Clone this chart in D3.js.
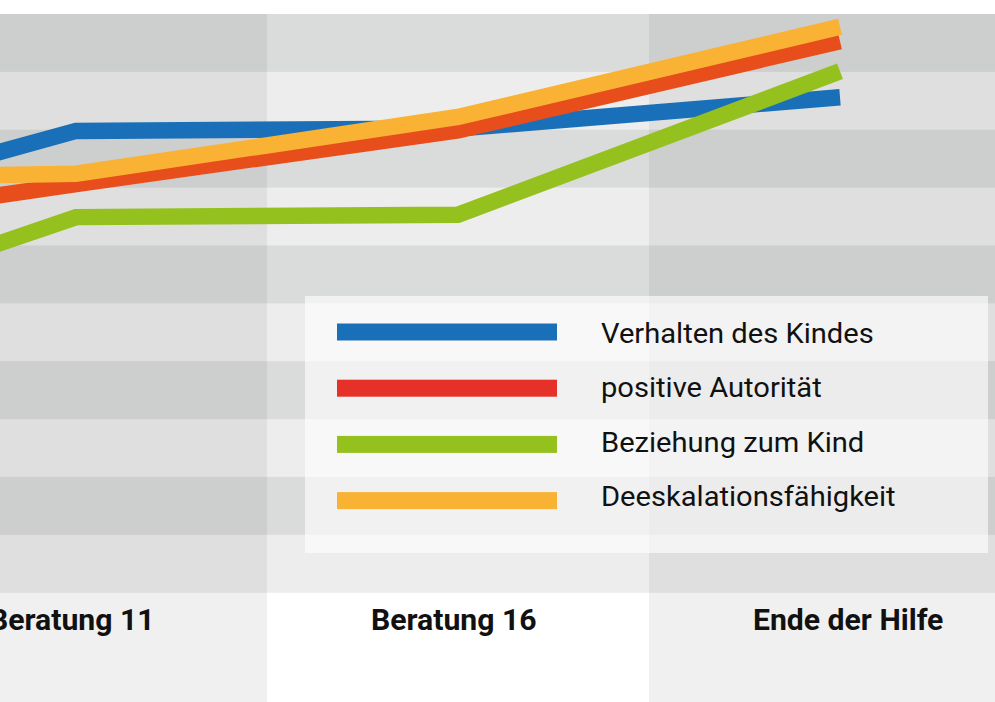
<!DOCTYPE html>
<html>
<head>
<meta charset="utf-8">
<script src="https://cdn.jsdelivr.net/npm/d3@7"></script>
<style>
  body { margin: 0; background: #fff; }
  svg { display: block; }
  text { font-family: Roboto, "Open Sans", sans-serif; fill: #111; }
</style>
</head>
<body>
<svg id="chart" width="995" height="702"></svg>
<script>
// categories (first one lies left of the visible crop)
const categories = ["Beratung 6", "Beratung 11", "Beratung 16", "Ende der Hilfe"];
const seriesNames = ["Verhalten des Kindes", "positive Autorität", "Beziehung zum Kind", "Deeskalationsfähigkeit"];
const verhalten = [6.16, 7.98, 8.02, 8.56];
const autoritaet = [6.11, 7.06, 7.99, 9.53];
const beziehung = [4.23, 6.49, 6.53, 9.01];
const deeskalation = [7.13, 7.24, 8.22, 9.78];
const bandTicks = d3.range(0, 10); // 10 horizontal stripes

const lineColors = ["#1a70b8", "#e84e1b", "#95c11f", "#f9b233"];
const swatchColors = ["#1a70b8", "#e63128", "#95c11f", "#f9b233"];

const W = 995, H = 702;
const plotTop = 14, plotBottom = 592.7;

const svg = d3.select("#chart");

const x = d3.scaleBand().domain(categories).range([-497, 1031]).padding(0);
const y = d3.scaleLinear().domain([0, 10]).range([plotBottom, plotTop]);

// column backgrounds
svg.append("g").selectAll("rect")
    .data(categories)
    .join("rect")
    .attr("x", d => x(d))
    .attr("y", plotTop)
    .attr("width", x.bandwidth())
    .attr("height", H - plotTop)
    .attr("fill", (d, i) => i % 2 ? "#f0f0f0" : "#ffffff");

// horizontal stripes (darken whatever column is under them)
svg.append("g").selectAll("rect")
    .data(bandTicks)
    .join("rect")
    .attr("x", 0)
    .attr("y", d => y(d + 1))
    .attr("width", W)
    .attr("height", d => y(d) - y(d + 1))
    .attr("fill", "#000804")
    .attr("fill-opacity", d => d % 2 ? 0.147 : 0.076);

// lines
const series = [verhalten, autoritaet, beziehung, deeskalation];
const line = d3.line()
    .x((d, i) => x(categories[i]) + x.bandwidth() / 2)
    .y(d => y(d));

svg.append("g").selectAll("path")
    .data(series)
    .join("path")
    .attr("d", line)
    .attr("fill", "none")
    .attr("stroke", (d, i) => lineColors[i])
    .attr("stroke-width", 16.5)
    .attr("stroke-linejoin", "miter")
    .attr("stroke-linecap", "butt");

// x labels
const stretch = 1.04;
svg.append("g").selectAll("text")
    .data(categories)
    .join("text")
    .attr("transform", d => `translate(${x(d) + x.bandwidth() / 2 - 87},630) scale(${stretch},1)`)
    .attr("font-size", 29)
    .attr("font-weight", "bold")
    .text(d => d);

// legend
const legend = svg.append("g").attr("transform", "translate(305,296)");
legend.append("rect")
    .attr("width", 683)
    .attr("height", 257)
    .attr("fill", "#fff")
    .attr("fill-opacity", 0.62);

legend.selectAll("rect.swatch")
    .data(seriesNames)
    .join("rect")
    .attr("class", "swatch")
    .attr("x", 32)
    .attr("y", (d, i) => 27.5 + i * 56.2)
    .attr("width", 220)
    .attr("height", 17)
    .attr("fill", (d, i) => swatchColors[i]);

legend.selectAll("text")
    .data(seriesNames)
    .join("text")
    .attr("transform", (d, i) => `translate(296,${46.5 + i * 54.5}) scale(${stretch},1)`)
    .attr("font-size", 28)
    .text(d => d);
</script>
</body>
</html>
